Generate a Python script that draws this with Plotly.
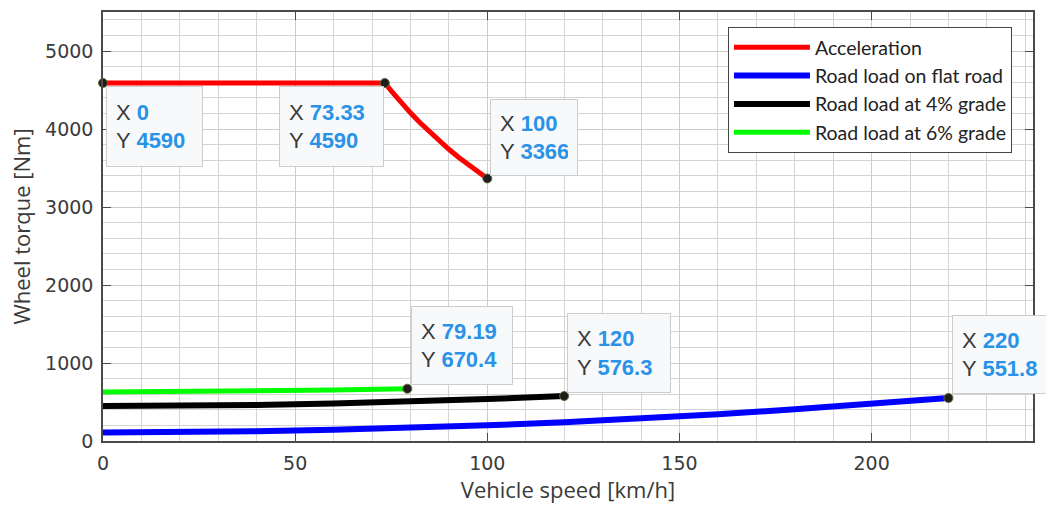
import plotly.graph_objects as go

# ---------------- data ----------------
accel_x = [0, 73.33, 75, 77.5, 80, 82.5, 85, 87.5, 90, 92.5, 95, 97.5, 100]
accel_y = [4590, 4590, 4488, 4343, 4207, 4080, 3960, 3847, 3740, 3639, 3543, 3452, 3366]

flat_x = [0, 20, 40, 60, 80, 100, 120, 140, 160, 180, 200, 220]
flat_y = [110, 114, 125, 143, 168, 201, 241, 289, 344, 406, 475, 551.8]

grade4_x = [0, 20, 40, 60, 80, 100, 120]
grade4_y = [450, 453, 463, 481, 506, 538, 576.3]

grade6_x = [0, 20, 40, 60, 79.19]
grade6_y = [628, 631, 639, 653, 670.4]

tip_x = [0, 73.33, 100, 79.19, 120, 220]
tip_y = [4590, 4590, 3366, 670.4, 576.3, 551.8]
tip_xlabel = ["0", "73.33", "100", "79.19", "120", "220"]
tip_ylabel = ["4590", "4590", "3366", "670.4", "576.3", "551.8"]

series_names = ["Acceleration", "Road load on flat road",
                "Road load at 4% grade", "Road load at 6% grade"]
series_colors = ["#ff0000", "#0000ff", "#000000", "#00ff00"]

# ---------------- figure ----------------
fig = go.Figure()
for xs, ys, name, col, w in [
    (accel_x, accel_y, series_names[0], series_colors[0], 5),
    (flat_x, flat_y, series_names[1], series_colors[1], 6),
    (grade4_x, grade4_y, series_names[2], series_colors[2], 6),
    (grade6_x, grade6_y, series_names[3], series_colors[3], 5),
]:
    fig.add_trace(go.Scatter(x=xs, y=ys, mode="lines", name=name,
                             line=dict(color=col, width=w)))

fig.add_trace(go.Scatter(x=tip_x, y=tip_y, mode="markers", showlegend=False,
                         cliponaxis=False,
                         marker=dict(color="#1e1e1e", size=9,
                                     line=dict(color="#6b6b3a", width=1))))

# datatip boxes: (xanchor, yanchor, xshift, yshift, width, height)
tip_layout = [
    ("left", "top", 3, -3, 77, 61),
    ("right", "top", -1, -3, 85, 61),
    ("left", "bottom", 3, 2, 68, 57),
    ("left", "bottom", 4, 4, 82, 59),
    ("left", "bottom", 3, 3, 84, 60),
    ("left", "bottom", 4, 4, 84, 59),
]
val_col = "#2a93e8"
for i in range(len(tip_x)):
    xa, ya, xs, ys, w, h = tip_layout[i]
    txt = (f"X <span style='color:{val_col}'><b>{tip_xlabel[i]}</b></span><br>"
           f"Y <span style='color:{val_col}'><b>{tip_ylabel[i]}</b></span>")
    fig.add_annotation(x=tip_x[i], y=tip_y[i], xref="x", yref="y", text=txt,
                       showarrow=False, xanchor=xa, yanchor=ya, xshift=xs, yshift=ys,
                       align="left", valign="middle", width=w, height=h,
                       bgcolor="#f8f9fb", bordercolor="#cccccc", borderwidth=1,
                       borderpad=9,
                       font=dict(family="Liberation Sans, Arial", size=22, color="#3a3a3a"))

axis_common = dict(
    showline=True, linecolor="#4a4a4a", linewidth=1.5, mirror="ticks",
    ticks="inside", ticklen=8, tickcolor="#4a4a4a", tickwidth=1.2,
    showgrid=True, gridcolor="#cccccc", gridwidth=1,
    zeroline=False,
    tickfont=dict(family="DejaVu Sans", size=19, color="#3a3a3a"),
)

fig.update_xaxes(range=[0, 242], dtick=50, tick0=0, ticklabelstandoff=4,
                 minor=dict(dtick=10, showgrid=True, gridcolor="#d4d4d4", ticks=""),
                 title=dict(text="Vehicle speed [km/h]",
                            font=dict(family="Open Sans", size=22, color="#3a3a3a"),
                            standoff=8),
                 **axis_common)
fig.update_yaxes(range=[0, 5500], dtick=1000, tick0=0, ticklabelstandoff=4,
                 minor=dict(dtick=200, showgrid=True, gridcolor="#d4d4d4", ticks=""),
                 title=dict(text="Wheel torque [Nm]",
                            font=dict(family="Open Sans", size=22, color="#3a3a3a"),
                            standoff=8),
                 **axis_common)

fig.update_layout(
    width=1046, height=511,
    margin=dict(l=103, r=13, t=10, b=70),
    paper_bgcolor="white", plot_bgcolor="white",
    legend=dict(x=0.672, y=0.965, xanchor="left", yanchor="top",
                bgcolor="white", bordercolor="#444444", borderwidth=1,
                font=dict(family="Lato", size=19.5, color="#222222"),
                itemwidth=76, entrywidth=217, tracegroupgap=0),
    showlegend=True,
)

fig.write_html("out.html")
